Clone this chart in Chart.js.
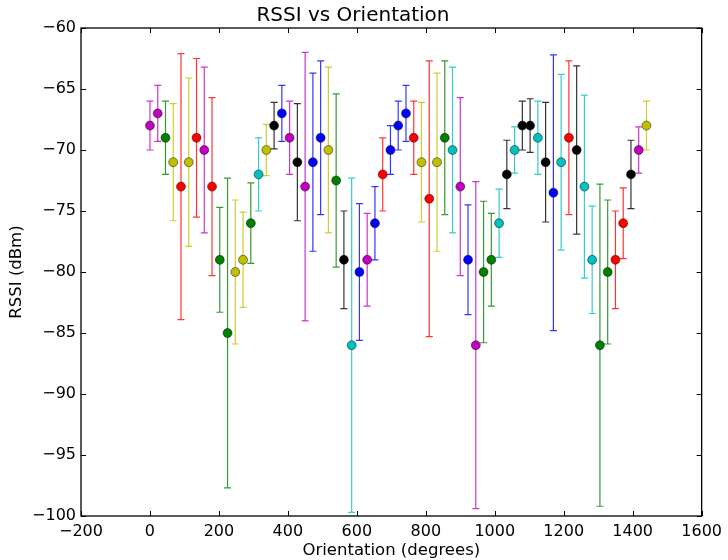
<!DOCTYPE html>
<html lang="en">
<head>
<meta charset="UTF-8" />
<title>RSSI vs Orientation</title>
<script src="https://cdn.jsdelivr.net/npm/chart.js"></script>
<style>
  html, body { margin:0; padding:0; background:#fff; }
  #wrap { width:728px; height:560px; }
</style>
</head>
<body>
<div id="wrap"><canvas id="chart"></canvas></div>
<script>
// ---- data ----
const angles = [
  0, 22.5, 45, 67.5, 90, 112.5, 135, 157.5, 180, 202.5, 225, 247.5, 270, 292.5, 315, 337.5,
  360, 382.5, 405, 427.5, 450, 472.5, 495, 517.5, 540, 562.5, 585, 607.5, 630, 652.5, 675, 697.5,
  720, 742.5, 765, 787.5, 810, 832.5, 855, 877.5, 900, 922.5, 945, 967.5, 990, 1012.5, 1035, 1057.5,
  1080, 1102.5, 1125, 1147.5, 1170, 1192.5, 1215, 1237.5, 1260, 1282.5, 1305, 1327.5, 1350, 1372.5,
  1395, 1417.5, 1440
];
const rssi = [
  -68, -67, -69, -71, -73, -71, -69, -70, -73, -79, -85, -80, -79, -76, -72, -70,
  -68, -67, -69, -71, -73, -71, -69, -70, -72.5, -79, -86, -80, -79, -76, -72, -70,
  -68, -67, -69, -71, -74, -71, -69, -70, -73, -79, -86, -80, -79, -76, -72, -70,
  -68, -68, -69, -71, -73.5, -71, -69, -70, -73, -79, -86, -80, -79, -76,
  -72, -70, -68
];
const rssiErr = [
  2, 2.3, 3, 4.8, 10.9, 6.9, 6.5, 6.8, 7.3, 4.3, 12.7, 5.9, 3.9, 3.3, 3, 2.1,
  1.9, 2.3, 3, 4.8, 11, 7.3, 6.3, 6.8, 7.1, 4, 13.7, 5.6, 3.8, 3, 3, 2,
  2, 2.3, 3, 4.9, 11.3, 7.3, 6.3, 6.8, 7.3, 4.5, 13.4, 5.8, 3.8, 2.8, 2.8, 1.9,
  2, 2.2, 3, 4.9, 11.3, 7.2, 6.3, 6.9, 7.5, 4.4, 13.2, 5.9, 4, 2.9,
  2.8, 1.9, 2
];
// matplotlib colour letters, one per point
const pointColors = [
  'm','m','g','y','r','y','r','m','r','g','g','y','y','g','c','y',
  'k','b','m','k','m','b','b','y','g','k','c','b','m','b','r','b',
  'b','b','r','y','r','y','g','c','m','b','m','g','g','c','k','c',
  'k','k','c','k','b','c','r','k','c','c','g','g','r','r',
  'k','m','y'
];
const xTicks = [-200, 0, 200, 400, 600, 800, 1000, 1200, 1400, 1600];
const yTicks = [-100, -95, -90, -85, -80, -75, -70, -65, -60];

const mpl = { b:'#0000ff', g:'#008000', r:'#ff0000', c:'#00bfbf', m:'#bf00bf', y:'#bfbf00', k:'#000000' };
const FONT = 'DejaVu Sans';
const minus = v => String(v).replace('-', '\u2212');

// error bars, drawn under the markers
const errorBars = {
  id:'errorBars',
  beforeDatasetsDraw(chart){
    const {ctx, chartArea:a, scales:{x, y}} = chart;
    ctx.save();
    ctx.beginPath(); ctx.rect(a.left, a.top, a.right-a.left, a.bottom-a.top); ctx.clip();
    ctx.lineWidth = 1.2;
    angles.forEach((ang, i) => {
      const px = x.getPixelForValue(ang);
      const y1 = y.getPixelForValue(rssi[i] + rssiErr[i]);
      const y2 = y.getPixelForValue(rssi[i] - rssiErr[i]);
      ctx.strokeStyle = mpl[pointColors[i]];
      ctx.globalAlpha = 0.8;
      ctx.beginPath();
      ctx.moveTo(px, y1); ctx.lineTo(px, y2);
      ctx.moveTo(px-3.5, y1); ctx.lineTo(px+3.5, y1);
      ctx.moveTo(px-3.5, y2); ctx.lineTo(px+3.5, y2);
      ctx.stroke();
    });
    ctx.restore();
  }
};

// matplotlib-classic frame with inward ticks on all sides
const frame = {
  id:'frame',
  afterDatasetsDraw(chart){
    const {ctx, chartArea:a, scales:{x, y}} = chart;
    ctx.save();
    ctx.strokeStyle = '#000';
    ctx.lineWidth = 1;
    ctx.beginPath();
    xTicks.forEach(t => {
      const px = Math.round(x.getPixelForValue(t)) + 0.5;
      ctx.moveTo(px, a.bottom); ctx.lineTo(px, a.bottom-5);
      ctx.moveTo(px, a.top);    ctx.lineTo(px, a.top+5);
    });
    yTicks.forEach(t => {
      const py = Math.round(y.getPixelForValue(t)) + 0.5;
      ctx.moveTo(a.left, py);  ctx.lineTo(a.left+5, py);
      ctx.moveTo(a.right, py); ctx.lineTo(a.right-5, py);
    });
    ctx.stroke();
    ctx.lineWidth = 1.3;
    ctx.strokeRect(a.left, a.top, a.right-a.left, a.bottom-a.top);
    ctx.restore();
  }
};

new Chart(document.getElementById('chart'), {
  type:'scatter',
  data:{
    datasets:[{
      data: angles.map((a, i) => ({x:a, y:rssi[i]})),
      pointRadius:4.5,
      pointHoverRadius:4.5,
      pointBackgroundColor: pointColors.map(c => mpl[c]),
      pointBorderColor:'rgba(0,0,0,0.75)',
      pointBorderWidth:0.6,
      showLine:false
    }]
  },
  options:{
    responsive:true,
    maintainAspectRatio:false,
    animation:false,
    layout:{ padding:{ left:0, right:22, top:0, bottom:0 } },
    scales:{
      x:{
        type:'linear', min:-200, max:1600,
        grid:{ display:false, drawTicks:false }, border:{ display:false },
        afterBuildTicks: s => { s.ticks = xTicks.map(v => ({value:v})); },
        afterFit: s => { s.height = 44; },
        ticks:{ color:'#000', font:{family:FONT, size:16}, padding:6, maxRotation:0, callback:minus },
        title:{ display:true, text:'Orientation (degrees)', color:'#000', font:{family:FONT, size:16.5}, padding:{top:0, bottom:-1} }
      },
      y:{
        min:-100, max:-60,
        grid:{ display:false, drawTicks:false }, border:{ display:false },
        afterBuildTicks: s => { s.ticks = yTicks.map(v => ({value:v})); },
        afterFit: s => { s.width = 81; },
        ticks:{ color:'#000', font:{family:FONT, size:16}, padding:5, callback:minus },
        title:{ display:true, text:'RSSI (dBm)', color:'#000', font:{family:FONT, size:16.5}, padding:7 }
      }
    },
    plugins:{
      legend:{ display:false },
      tooltip:{ enabled:false },
      title:{ display:true, text:'RSSI vs Orientation', color:'#000',
              font:{family:FONT, size:20, weight:'normal'}, padding:{top:4, bottom:0} }
    }
  },
  plugins:[errorBars, frame]
});
</script>
</body>
</html>
